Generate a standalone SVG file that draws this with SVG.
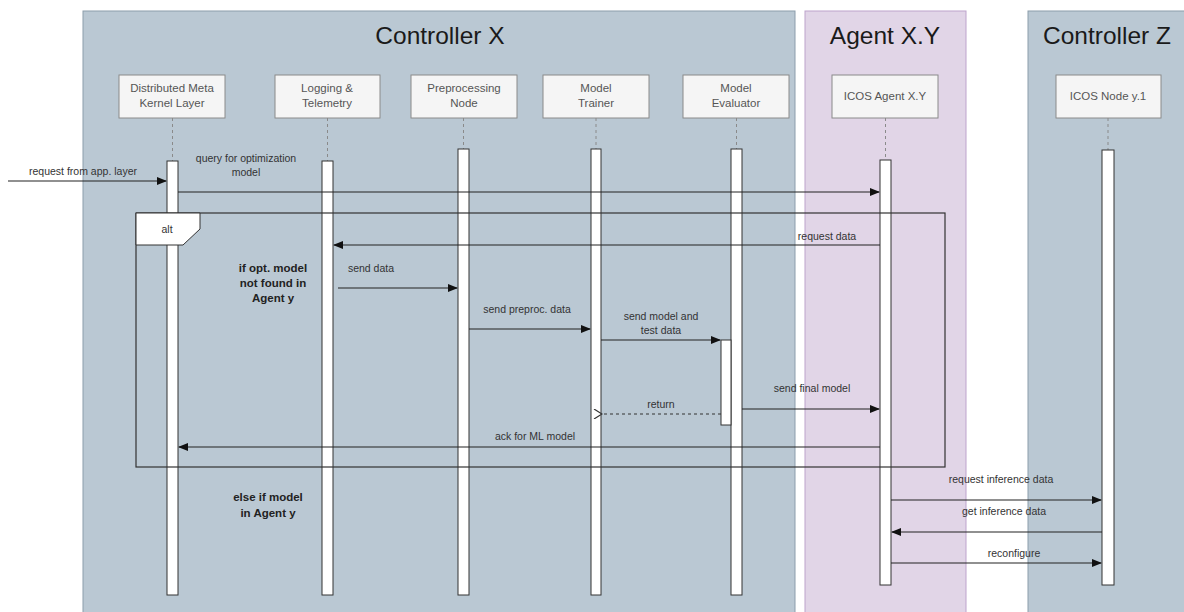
<svg xmlns="http://www.w3.org/2000/svg" width="1184" height="612" viewBox="0 0 1184 612">
<style>
.title{font-family:"Liberation Sans",Arial,sans-serif;font-size:24.5px;fill:#1a1a1a;text-anchor:middle}
.pbox{fill:#f5f5f5;stroke:#8a8a8a;stroke-width:1}
.ptxt{font-family:"Liberation Sans",Arial,sans-serif;font-size:11.5px;fill:#555;text-anchor:middle}
.life{stroke:#8a8a8a;stroke-width:1;stroke-dasharray:3,3}
.act{fill:#fff;stroke:#333;stroke-width:1}
.msg{stroke:#222;stroke-width:1.2;fill:none}
.ret{stroke:#333;stroke-width:1.2;fill:none;stroke-dasharray:3,3}
.lbl{font-family:"Liberation Sans",Arial,sans-serif;font-size:10.5px;fill:#333;text-anchor:middle}
.cond{font-family:"Liberation Sans",Arial,sans-serif;font-size:11.5px;font-weight:bold;fill:#222;text-anchor:middle}
</style>
<defs>
<marker id="ah" markerWidth="10" markerHeight="8" refX="9" refY="4" orient="auto" markerUnits="userSpaceOnUse">
<path d="M0,0 L10,4 L0,8 Z" fill="#111"/>
</marker>
<marker id="oh" markerWidth="10" markerHeight="10" refX="1" refY="5" orient="auto-start-reverse" markerUnits="userSpaceOnUse">
<path d="M9,0 L1,5 L9,10" fill="none" stroke="#333" stroke-width="1.2"/>
</marker>
</defs>

<g id="containers">
<rect x="83" y="11" width="712" height="610" fill="#bac8d3" stroke="#8c9dab" stroke-width="1"/>
<rect x="805" y="11" width="161" height="610" fill="#e1d5e7" stroke="#bda3cc" stroke-width="1"/>
<rect x="1028" y="11" width="170" height="610" fill="#bac8d3" stroke="#8c9dab" stroke-width="1"/>
<text class="title" x="440" y="44">Controller X</text>
<text class="title" x="885" y="44">Agent X.Y</text>
<text class="title" x="1107" y="44">Controller Z</text>
</g>

<g id="node-dmkl">
<rect class="pbox" x="119" y="75" width="106" height="43"/>
<text class="ptxt" x="172" y="92">Distributed Meta</text>
<text class="ptxt" x="172" y="107">Kernel Layer</text>
<line class="life" x1="172.5" y1="118" x2="172.5" y2="161"/>
<rect class="act" x="167" y="161" width="11" height="434"/>
</g>

<g id="node-logging">
<rect class="pbox" x="275" y="75" width="105" height="43"/>
<text class="ptxt" x="327" y="92">Logging &amp;</text>
<text class="ptxt" x="327" y="107">Telemetry</text>
<line class="life" x1="327.5" y1="118" x2="327.5" y2="161"/>
<rect class="act" x="322" y="161" width="11" height="434"/>
</g>

<g id="node-preproc">
<rect class="pbox" x="411" y="75" width="106" height="43"/>
<text class="ptxt" x="464" y="92">Preprocessing</text>
<text class="ptxt" x="464" y="107">Node</text>
<line class="life" x1="463.5" y1="118" x2="463.5" y2="149"/>
<rect class="act" x="458" y="149" width="11" height="446"/>
</g>

<g id="node-trainer">
<rect class="pbox" x="543" y="75" width="106" height="43"/>
<text class="ptxt" x="596" y="92">Model</text>
<text class="ptxt" x="596" y="107">Trainer</text>
<line class="life" x1="596" y1="118" x2="596" y2="149"/>
<rect class="act" x="591" y="149" width="10" height="446"/>
</g>

<g id="node-evaluator">
<rect class="pbox" x="683" y="75" width="106" height="43"/>
<text class="ptxt" x="736" y="92">Model</text>
<text class="ptxt" x="736" y="107">Evaluator</text>
<line class="life" x1="736.5" y1="118" x2="736.5" y2="149"/>
<rect class="act" x="731" y="149" width="11" height="446"/>
<rect class="act" x="721" y="340" width="10" height="85"/>
</g>

<g id="node-agent">
<rect class="pbox" x="832" y="75" width="106" height="43"/>
<text class="ptxt" x="885" y="100">ICOS Agent X.Y</text>
<line class="life" x1="885.5" y1="118" x2="885.5" y2="160"/>
<rect class="act" x="880" y="160" width="11" height="425"/>
</g>

<g id="node-icosnode">
<rect class="pbox" x="1056" y="75" width="105" height="43"/>
<text class="ptxt" x="1108" y="100">ICOS Node y.1</text>
<line class="life" x1="1108" y1="118" x2="1108" y2="150"/>
<rect class="act" x="1102" y="150" width="12" height="435"/>
</g>

<g id="alt-frame">
<rect x="136" y="213" width="809" height="254" fill="none" stroke="#333" stroke-width="1.2"/>
<path d="M136,213 L200,213 L200,229 L183,245 L136,245 Z" fill="#fff" stroke="#333" stroke-width="1"/>
<text class="lbl" x="167" y="233">alt</text>
<text class="cond" x="273" y="272">if opt. model</text>
<text class="cond" x="273" y="287">not found in</text>
<text class="cond" x="273" y="302">Agent y</text>
<text class="cond" x="268" y="501">else if model</text>
<text class="cond" x="268" y="517">in Agent y</text>
</g>

<g id="connectors">
<line class="msg" x1="8" y1="181" x2="166" y2="181" marker-end="url(#ah)"/>
<text class="lbl" x="83" y="175">request from app. layer</text>

<line class="msg" x1="178" y1="192" x2="879" y2="192" marker-end="url(#ah)"/>
<text class="lbl" x="246" y="162">query for optimization</text>
<text class="lbl" x="246" y="176">model</text>

<line class="msg" x1="880" y1="245" x2="334" y2="245" marker-end="url(#ah)"/>
<text class="lbl" x="827" y="240">request data</text>

<line class="msg" x1="338" y1="288" x2="457" y2="288" marker-end="url(#ah)"/>
<text class="lbl" x="371" y="272">send data</text>

<line class="msg" x1="469" y1="329" x2="590" y2="329" marker-end="url(#ah)"/>
<text class="lbl" x="527" y="313">send preproc. data</text>

<line class="msg" x1="601" y1="340" x2="720" y2="340" marker-end="url(#ah)"/>
<text class="lbl" x="661" y="320">send model and</text>
<text class="lbl" x="661" y="334">test data</text>

<line class="ret" x1="721" y1="414" x2="602" y2="414" marker-end="url(#oh)"/>
<text class="lbl" x="661" y="408">return</text>

<line class="msg" x1="742" y1="409" x2="879" y2="409" marker-end="url(#ah)"/>
<text class="lbl" x="812" y="392">send final model</text>

<line class="msg" x1="880" y1="447" x2="179" y2="447" marker-end="url(#ah)"/>
<text class="lbl" x="535" y="440">ack for ML model</text>

<line class="msg" x1="891" y1="500" x2="1101" y2="500" marker-end="url(#ah)"/>
<text class="lbl" x="1001" y="483">request inference data</text>

<line class="msg" x1="1102" y1="532" x2="892" y2="532" marker-end="url(#ah)"/>
<text class="lbl" x="1004" y="515">get inference data</text>

<line class="msg" x1="891" y1="563" x2="1101" y2="563" marker-end="url(#ah)"/>
<text class="lbl" x="1014" y="557">reconfigure</text>
</g>
</svg>
